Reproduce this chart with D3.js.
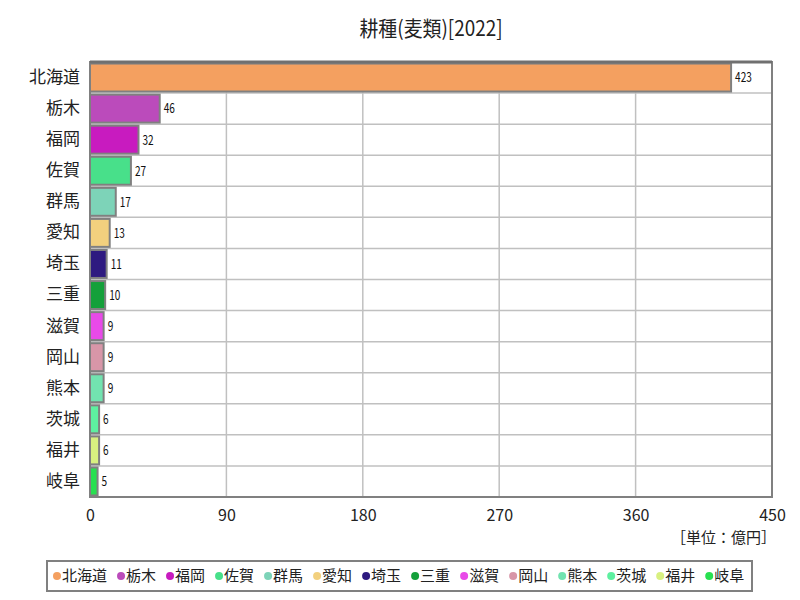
<!DOCTYPE html>
<html>
<head>
<meta charset="utf-8">
<script src="https://cdn.jsdelivr.net/npm/d3@7"></script>
<style>
  body { margin: 0; background: #fff; }
  svg { font-family: "Noto Sans CJK JP", sans-serif; }
</style>
</head>
<body>
<div id="chart"></div>
<script>
var prefs = ['北海道', '栃木', '福岡', '佐賀', '群馬', '愛知', '埼玉', '三重', '滋賀', '岡山', '熊本', '茨城', '福井', '岐阜'];
var values = [423, 46, 32, 27, 17, 13, 11, 10, 9, 9, 9, 6, 6, 5];
var colors = ['#f4a060', '#bb4bbb', '#c81bbf', '#48e08a', '#7dd3b8', '#f2d07e', '#2e1a80',
              '#14a03a', '#e84ae8', '#d896a8', '#72e3b0', '#5ef0a0', '#d8f080', '#28e050'];
var ticks = [0, 90, 180, 270, 360, 450];

var width = 800, height = 600;
var plotL = 90, plotR = 772, plotT = 62, plotB = 497;

var svg = d3.select('#chart').append('svg')
  .attr('width', width)
  .attr('height', height);

var x = d3.scaleLinear().domain([0, 450]).range([plotL, plotR]);
var y = d3.scaleBand().domain(prefs).range([plotT, plotB]).paddingInner(0.1).paddingOuter(0.05);

// title
svg.append('text')
  .attr('x', (plotL + plotR) / 2)
  .attr('y', 36)
  .attr('text-anchor', 'middle')
  .attr('font-size', 21)
  .attr('fill', '#222')
  .attr('transform', 'translate(' + (plotL + plotR) / 2 + ',0) scale(0.9,1) translate(' + (-(plotL + plotR) / 2) + ',0)')
  .text('耕種(麦類)[2022]');

// grid: vertical
svg.append('g').selectAll('line')
  .data(ticks.slice(1, -1))
  .enter().append('line')
  .attr('x1', function(d) { return x(d); })
  .attr('x2', function(d) { return x(d); })
  .attr('y1', plotT).attr('y2', plotB)
  .attr('stroke', '#c0c0c0').attr('stroke-width', 1.5);

// grid: horizontal row separators
var step = (plotB - plotT) / prefs.length;
svg.append('g').selectAll('line')
  .data(d3.range(1, prefs.length))
  .enter().append('line')
  .attr('x1', plotL).attr('x2', plotR)
  .attr('y1', function(i) { return plotT + i * step; })
  .attr('y2', function(i) { return plotT + i * step; })
  .attr('stroke', '#c0c0c0').attr('stroke-width', 1.5);

// bars
svg.append('g').selectAll('rect')
  .data(prefs)
  .enter().append('rect')
  .attr('x', x(0))
  .attr('y', function(d) { return y(d); })
  .attr('width', function(d, i) { return x(values[i]) - x(0); })
  .attr('height', y.bandwidth())
  .attr('fill', function(d, i) { return colors[i]; })
  .attr('stroke', '#808080')
  .attr('stroke-width', 2);

// value labels
svg.append('g').selectAll('text')
  .data(prefs)
  .enter().append('text')
  .attr('x', function(d, i) { return x(values[i]) + 4; })
  .attr('y', function(d) { return y(d) + y.bandwidth() / 2; })
  .attr('dy', '0.35em')
  .attr('font-size', 14)
  .attr('fill', '#111')
  .attr('transform', function(d, i) {
    var tx = x(values[i]) + 4;
    return 'translate(' + tx + ',0) scale(0.72,1) translate(' + (-tx) + ',0)';
  })
  .text(function(d, i) { return values[i]; });

// plot border
svg.append('rect')
  .attr('x', plotL).attr('y', plotT)
  .attr('width', plotR - plotL).attr('height', plotB - plotT)
  .attr('fill', 'none')
  .attr('stroke', '#808080').attr('stroke-width', 2);
svg.append('line')
  .attr('x1', plotL).attr('x2', plotR)
  .attr('y1', plotT).attr('y2', plotT)
  .attr('stroke', '#707070').attr('stroke-width', 3);

// y axis labels
var yAxis = d3.axisLeft(y).tickSize(0).tickPadding(10);
var gy = svg.append('g')
  .attr('transform', 'translate(' + plotL + ',0)')
  .call(yAxis);
gy.select('.domain').remove();
gy.selectAll('text')
  .attr('font-size', 17)
  .attr('fill', '#222')
  .attr('font-family', '"Noto Sans CJK JP", sans-serif');

// x axis labels
var xAxis = d3.axisBottom(x).tickValues(ticks).tickSize(0).tickPadding(13);
var gx = svg.append('g')
  .attr('transform', 'translate(0,' + plotB + ')')
  .call(xAxis);
gx.select('.domain').remove();
gx.selectAll('text')
  .attr('font-size', 16)
  .attr('fill', '#222')
  .attr('font-family', '"Noto Sans CJK JP", sans-serif');

// unit
svg.append('text')
  .attr('x', 776)
  .attr('y', 543)
  .attr('text-anchor', 'end')
  .attr('font-size', 15)
  .attr('fill', '#222')
  .text('［単位：億円］');

// legend
var legend = svg.append('g');
legend.append('rect')
  .attr('x', 47).attr('y', 561)
  .attr('width', 705).attr('height', 30)
  .attr('fill', '#fff')
  .attr('stroke', '#808080').attr('stroke-width', 2);

var lx = 57;
prefs.forEach(function(p, i) {
  var g = legend.append('g').attr('transform', 'translate(' + lx + ',576)');
  g.append('circle').attr('cx', 0).attr('cy', 0).attr('r', 4).attr('fill', colors[i]);
  var t = g.append('text')
    .attr('x', 5).attr('y', 0).attr('dy', '0.35em')
    .attr('font-size', 15).attr('fill', '#222')
    .text(p);
  lx += 5 + t.node().getComputedTextLength() + 14;
});
</script>
</body>
</html>
